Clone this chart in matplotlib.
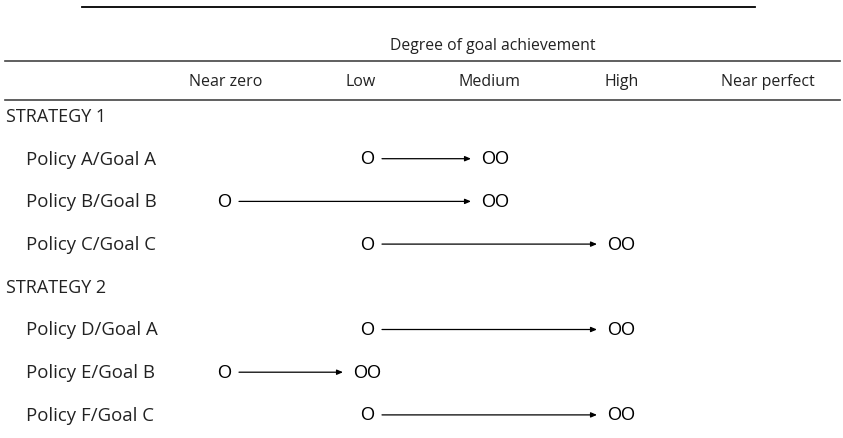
import matplotlib.pyplot as plt

# Table content
levels = ['Near zero', 'Low', 'Medium', 'High', 'Near perfect']
strategies = ['STRATEGY 1', 'STRATEGY 2']
policies = [
    ['Policy A/Goal A', 'Policy B/Goal B', 'Policy C/Goal C'],
    ['Policy D/Goal A', 'Policy E/Goal B', 'Policy F/Goal C'],
]
# index into levels: where each policy starts (O) and ends up (OO)
start_level = [[1, 0, 1], [1, 0, 1]]
end_level = [[2, 2, 3], [3, 1, 3]]

# layout, in pixels of the 843x439 image
col_x = [226, 361, 490, 622, 768]
mark_x = [224, 367, 495, 621, 768]
row_y0 = 117
row_step = 42.7

label_font = 'Open Sans'
mark_font = 'Liberation Sans'

fig = plt.figure(figsize=(8.43, 4.39), dpi=100)
ax = fig.add_axes([0, 0, 1, 1])
ax.set_xlim(0, 843)
ax.set_ylim(439, 0)
ax.axis('off')

# rules
ax.plot([82, 755], [7.5, 7.5], color='black', lw=1.3)
ax.plot([5, 840], [62, 62], color='#444444', lw=1.2)
ax.plot([5, 840], [100.5, 100.5], color='#444444', lw=1.2)

ax.text(493, 46, 'Degree of goal achievement', ha='center', va='center',
        fontsize=11.3, family=label_font, color='#222222')
for x, lev in zip(col_x, levels):
    ax.text(x, 82, lev, ha='center', va='center', fontsize=11.5,
            family=label_font, color='#222222')

row = 0
for s, strat in enumerate(strategies):
    y = row_y0 + row * row_step
    ax.text(6, y, strat, ha='left', va='center', fontsize=13,
            family=label_font, color='#222222')
    row += 1
    for p, pol in enumerate(policies[s]):
        y = row_y0 + row * row_step
        ax.text(26, y, pol, ha='left', va='center', fontsize=13.4,
                family=label_font, color='#222222')
        x0 = mark_x[start_level[s][p]]
        x1 = mark_x[end_level[s][p]]
        ax.text(x0, y, 'O', ha='center', va='center', fontsize=13, family=mark_font)
        ax.text(x1, y, 'OO', ha='center', va='center', fontsize=13, family=mark_font)
        ax.annotate('', xy=(x1 - 24, y), xytext=(x0 + 15, y),
                    arrowprops=dict(arrowstyle='-|>,head_length=0.35,head_width=0.15',
                                    color='black', lw=0.9, shrinkA=0, shrinkB=0))
        row += 1

fig.savefig('out.png', dpi=100)
